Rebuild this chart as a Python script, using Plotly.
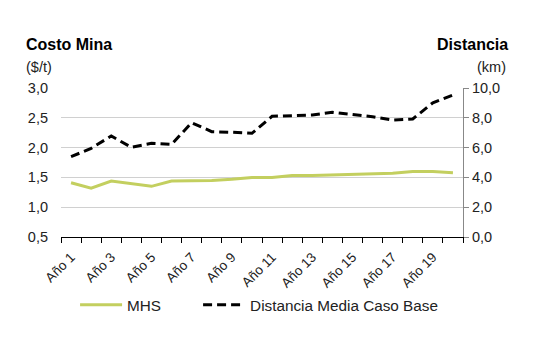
import plotly.graph_objects as go

# Categories (years) and series values
years = [f"Año {i}" for i in range(1, 21)]
mhs_cost = [1.41, 1.32, 1.44, 1.40, 1.35, 1.44, 1.44, 1.45, 1.47, 1.50,
            1.50, 1.53, 1.53, 1.54, 1.54, 1.55, 1.57, 1.60, 1.60, 1.58]
distancia_km = [5.39, 5.95, 6.78, 6.02, 6.29, 6.22, 7.67, 7.07, 7.03, 6.96,
                8.10, 8.12, 8.19, 8.37, 8.23, 8.07, 7.85, 7.92, 9.01, 9.53]
left_ticks = [0.5, 1.0, 1.5, 2.0, 2.5, 3.0]
right_ticks = [0, 2, 4, 6, 8, 10]

xpos = list(range(1, len(years) + 1))
label_pos = xpos[::2]
label_txt = years[::2]

FONT = "Liberation Sans, Arial, sans-serif"

fig = go.Figure()
fig.add_trace(go.Scatter(
    x=xpos, y=mhs_cost, name="MHS", mode="lines", legend="legend",
    line=dict(color="#c3cf5f", width=3), yaxis="y"))
fig.add_trace(go.Scatter(
    x=xpos, y=distancia_km, name="Distancia Media Caso Base", mode="lines",
    legend="legend2",
    line=dict(color="#000000", width=3, dash="9px,5px"), yaxis="y2"))

legend_style = dict(orientation="h", xanchor="left", y=-0.455, yanchor="middle",
                    font=dict(size=15.3, color="#222222"), itemwidth=42,
                    bgcolor="rgba(0,0,0,0)")

fig.update_layout(
    width=541, height=342,
    margin=dict(l=61, r=78, t=88, b=105),
    paper_bgcolor="white", plot_bgcolor="white",
    separators=",.",
    font=dict(family=FONT, size=14, color="#222222"),
    showlegend=True,
    legend=dict(x=0.035, **legend_style),
    legend2=dict(x=0.341, **legend_style),
    xaxis=dict(
        range=[0.5, 20.5], tickmode="array", tickvals=label_pos, ticktext=label_txt,
        tickangle=-45, ticks="", showgrid=False, zeroline=False,
        showline=True, linecolor="#000000", linewidth=1,
        ticklabelstandoff=6,
        tickfont=dict(size=13.5, color="#222222"),
        minor=dict(tickmode="linear", tick0=0.5, dtick=1, ticks="outside",
                   ticklen=5, tickcolor="#000000", showgrid=False)),
    yaxis=dict(
        range=[0.5, 3.0], tickvals=left_ticks, tickformat=".1f",
        showgrid=True, gridcolor="#d0d0d0", gridwidth=1, zeroline=False,
        showline=False, ticks="", ticklabelstandoff=12,
        tickfont=dict(size=14.5, color="#222222")),
    yaxis2=dict(
        range=[0, 10], tickvals=right_ticks, tickformat=".1f",
        overlaying="y", side="right", showgrid=False, zeroline=False,
        showline=True, linecolor="#888888", linewidth=1,
        ticks="outside", ticklen=5, tickcolor="#888888",
        tickfont=dict(size=14.5, color="#222222")),
    annotations=[
        dict(text="<b>Costo Mina</b>", xref="paper", yref="paper", x=-0.092, y=1.289,
             xanchor="left", yanchor="middle", showarrow=False,
             font=dict(size=16, color="#000000")),
        dict(text="($/t)", xref="paper", yref="paper", x=-0.092, y=1.142,
             xanchor="left", yanchor="middle", showarrow=False,
             font=dict(size=14.5, color="#222222")),
        dict(text="<b>Distancia</b>", xref="paper", yref="paper", x=1.117, y=1.289,
             xanchor="right", yanchor="middle", showarrow=False,
             font=dict(size=16, color="#000000")),
        dict(text="(km)", xref="paper", yref="paper", x=1.112, y=1.142,
             xanchor="right", yanchor="middle", showarrow=False,
             font=dict(size=14.5, color="#222222")),
    ],
)

fig.write_html("out.html")
